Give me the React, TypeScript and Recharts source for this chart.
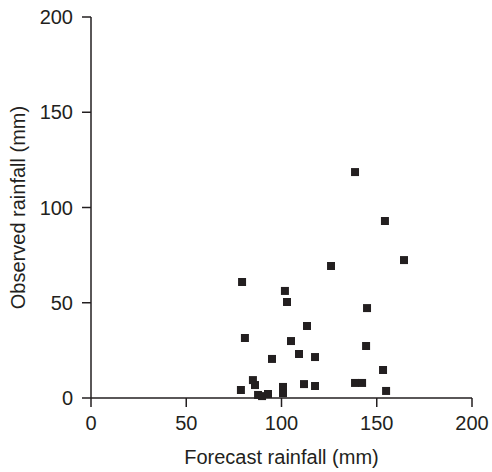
import React from "react";
import {
  ScatterChart,
  Scatter,
  XAxis,
  YAxis,
  ZAxis,
  Label,
} from "recharts";

// forecast vs observed rainfall (mm)
const forecast = [
  138.6, 154.3, 164.3, 126.0, 79.3, 101.8, 102.9, 144.9, 113.4, 80.8,
  105.0, 144.4, 109.2, 95.0, 117.6, 153.3, 78.7, 85.0, 86.1, 87.7,
  89.8, 92.9, 100.8, 100.8, 111.8, 117.6, 138.6, 142.3, 154.9,
];
const observed = [
  118.6, 92.9, 72.4, 69.3, 60.9, 56.2, 50.4, 47.2, 37.8, 31.5,
  29.9, 27.3, 23.1, 20.5, 21.5, 14.7, 4.2, 9.4, 6.8, 1.6,
  1.0, 2.1, 5.8, 2.6, 7.3, 6.3, 7.9, 7.9, 3.7,
];
const ticks = [0, 50, 100, 150, 200];

const points = forecast.map((x, i) => ({ x, y: observed[i] }));

const ink = "#231f20";
const font = "'Liberation Sans', Arial, sans-serif";
const tickStyle = { fill: ink, fontSize: 20, fontFamily: font };

const App: React.FC = () => {
  return (
    <div style={{ position: "absolute", left: 0, top: 0, background: "#fff" }}>
      <ScatterChart
        width={492}
        height={472}
        margin={{ top: 17, right: 20, bottom: 0, left: 0 }}
      >
        <XAxis
          type="number"
          dataKey="x"
          domain={[0, 200]}
          ticks={ticks}
          height={74}
          tickSize={9}
          tickMargin={9}
          tick={tickStyle}
          stroke={ink}
          strokeWidth={1.5}
          tickLine={{ stroke: ink, strokeWidth: 1.5 }}
        >
          <Label
            value="Forecast rainfall (mm)"
            position="insideBottom"
            offset={8}
            style={{ fill: ink, fontSize: 20, fontFamily: font }}
          />
        </XAxis>
        <YAxis
          type="number"
          dataKey="y"
          domain={[0, 200]}
          ticks={ticks}
          width={91}
          tickSize={9}
          tickMargin={9}
          tick={tickStyle}
          stroke={ink}
          strokeWidth={1.5}
          tickLine={{ stroke: ink, strokeWidth: 1.5 }}
        >
          <Label
            value="Observed rainfall (mm)"
            angle={-90}
            position="insideLeft"
            offset={18}
            style={{ textAnchor: "middle", fill: ink, fontSize: 20, fontFamily: font }}
          />
        </YAxis>
        <ZAxis range={[150, 150]} />
        <Scatter
          data={points}
          shape="square"
          fill={ink}
          isAnimationActive={false}
        />
      </ScatterChart>
    </div>
  );
};

export default App;
